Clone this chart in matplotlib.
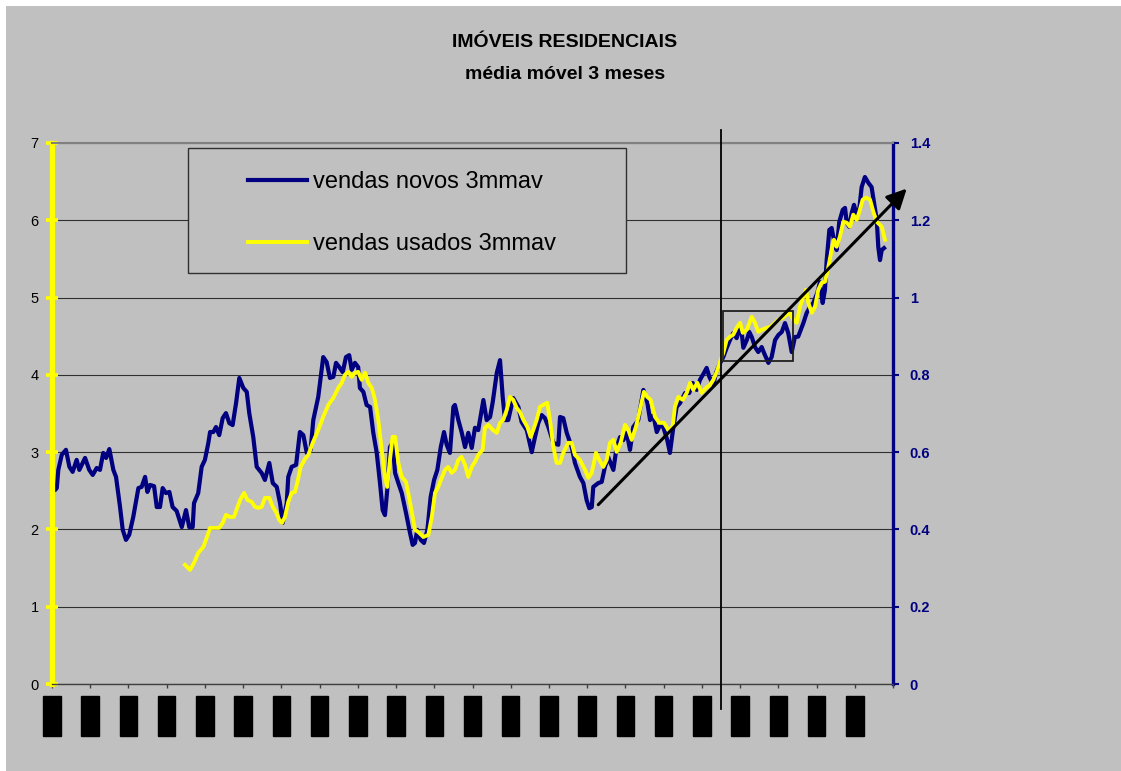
import numpy as np
import matplotlib
matplotlib.use("Agg")
import matplotlib.pyplot as plt
from matplotlib.patches import Rectangle

plt.rcParams['font.family'] = ['Liberation Sans', 'DejaVu Sans']

# vendas de imóveis novos, média móvel 3 meses (eixo direito)
anos_novos = [1963.00, 1963.16, 1963.25, 1963.33, 1963.51, 1963.73, 1963.91, 1964.08, 1964.29, 1964.43,
              1964.73, 1964.95, 1965.13, 1965.34, 1965.51, 1965.68, 1965.83, 1966.00, 1966.21, 1966.35,
              1966.56, 1966.70, 1966.87, 1967.04, 1967.25, 1967.52, 1967.69, 1967.87, 1967.99, 1968.13,
              1968.34, 1968.48, 1968.65, 1968.79, 1968.96, 1969.14, 1969.31, 1969.52, 1969.79, 1970.01,
              1970.18, 1970.36, 1970.43, 1970.65, 1970.83, 1971.00, 1971.18, 1971.27, 1971.44, 1971.58,
              1971.75, 1971.93, 1972.10, 1972.28, 1972.45, 1972.63, 1972.80, 1973.01, 1973.19, 1973.32,
              1973.53, 1973.71, 1973.97, 1974.14, 1974.37, 1974.55, 1974.76, 1974.93, 1975.07, 1975.28,
              1975.36, 1975.54, 1975.77, 1975.97, 1976.15, 1976.33, 1976.53, 1976.67, 1976.93, 1977.19,
              1977.37, 1977.54, 1977.72, 1977.86, 1978.03, 1978.21, 1978.38, 1978.55, 1978.68, 1978.85,
              1979.02, 1979.11, 1979.29, 1979.46, 1979.64, 1979.81, 1979.99, 1980.16, 1980.30, 1980.42,
              1980.54, 1980.68, 1980.82, 1980.95, 1981.12, 1981.30, 1981.52, 1981.73, 1981.87, 1981.99,
              1982.11, 1982.29, 1982.46, 1982.64, 1982.81, 1982.99, 1983.16, 1983.34, 1983.51, 1983.65,
              1983.82, 1984.00, 1984.08, 1984.26, 1984.43, 1984.61, 1984.78, 1984.96, 1985.13, 1985.30,
              1985.57, 1985.74, 1985.92, 1986.06, 1986.27, 1986.44, 1986.58, 1986.70, 1986.87, 1987.13,
              1987.40, 1987.57, 1987.84, 1988.10, 1988.27, 1988.44, 1988.62, 1988.79, 1988.97, 1989.23,
              1989.49, 1989.58, 1989.75, 1989.93, 1990.19, 1990.36, 1990.62, 1990.80, 1990.97, 1991.11,
              1991.24, 1991.32, 1991.58, 1991.76, 1991.93, 1992.10, 1992.37, 1992.54, 1992.72, 1992.89,
              1993.07, 1993.24, 1993.41, 1993.67, 1993.94, 1994.15, 1994.29, 1994.46, 1994.64, 1994.81,
              1994.98, 1995.19, 1995.33, 1995.51, 1995.68, 1995.86, 1996.12, 1996.34, 1996.52, 1996.73,
              1996.90, 1997.11, 1997.25, 1997.39, 1997.60, 1997.74, 1997.91, 1998.12, 1998.30, 1998.47,
              1998.64, 1998.82, 1999.00, 1999.08, 1999.17, 1999.35, 1999.48, 1999.61, 1999.78, 1999.95,
              2000.13, 2000.25, 2000.48, 2000.65, 2000.83, 2001.00, 2001.18, 2001.35, 2001.52, 2001.70,
              2001.87, 2002.04, 2002.31, 2002.48, 2002.66, 2002.83, 2003.04, 2003.18, 2003.32, 2003.44,
              2003.53, 2003.67, 2003.79, 2003.91, 2004.05, 2004.19, 2004.37, 2004.49, 2004.58, 2004.71,
              2004.84, 2004.96, 2005.10, 2005.24, 2005.36, 2005.53, 2005.71, 2005.88, 2006.01, 2006.15,
              2006.23, 2006.32, 2006.41, 2006.53]
vendas_novos = [0.499, 0.502, 0.507, 0.554, 0.593, 0.606, 0.562, 0.549, 0.580, 0.554,
                0.585, 0.554, 0.541, 0.559, 0.554, 0.598, 0.585, 0.608, 0.554, 0.536,
                0.458, 0.399, 0.373, 0.386, 0.432, 0.507, 0.510, 0.536, 0.497, 0.515,
                0.512, 0.458, 0.458, 0.507, 0.494, 0.497, 0.458, 0.448, 0.406, 0.450,
                0.406, 0.406, 0.468, 0.494, 0.562, 0.580, 0.624, 0.652, 0.652, 0.665,
                0.644, 0.688, 0.701, 0.675, 0.670, 0.727, 0.792, 0.766, 0.756, 0.701,
                0.639, 0.562, 0.546, 0.528, 0.572, 0.520, 0.510, 0.468, 0.417, 0.468,
                0.536, 0.562, 0.567, 0.652, 0.644, 0.598, 0.606, 0.683, 0.743, 0.846,
                0.833, 0.792, 0.795, 0.831, 0.820, 0.807, 0.846, 0.851, 0.813, 0.831,
                0.820, 0.766, 0.756, 0.722, 0.717, 0.650, 0.598, 0.520, 0.450, 0.437,
                0.502, 0.613, 0.624, 0.546, 0.520, 0.494, 0.443, 0.391, 0.360, 0.365,
                0.399, 0.373, 0.365, 0.399, 0.484, 0.528, 0.554, 0.613, 0.652, 0.619,
                0.598, 0.717, 0.722, 0.683, 0.652, 0.613, 0.650, 0.611, 0.663, 0.657,
                0.735, 0.683, 0.691, 0.730, 0.805, 0.838, 0.743, 0.683, 0.683, 0.740,
                0.717, 0.678, 0.657, 0.600, 0.639, 0.675, 0.696, 0.688, 0.665, 0.624,
                0.619, 0.691, 0.688, 0.650, 0.613, 0.572, 0.536, 0.520, 0.476, 0.455,
                0.458, 0.510, 0.520, 0.523, 0.562, 0.587, 0.554, 0.613, 0.639, 0.631,
                0.650, 0.606, 0.665, 0.683, 0.761, 0.727, 0.683, 0.696, 0.652, 0.670,
                0.665, 0.631, 0.598, 0.665, 0.717, 0.727, 0.753, 0.753, 0.779, 0.761,
                0.787, 0.805, 0.818, 0.795, 0.774, 0.805, 0.826, 0.846, 0.870, 0.890,
                0.908, 0.895, 0.924, 0.911, 0.870, 0.890, 0.911, 0.898, 0.872, 0.859,
                0.872, 0.857, 0.831, 0.846, 0.890, 0.903, 0.911, 0.934, 0.908, 0.859,
                0.898, 0.899, 0.934, 0.960, 0.976, 0.986, 1.012, 1.040, 0.986, 1.020,
                1.097, 1.175, 1.180, 1.149, 1.123, 1.196, 1.227, 1.232, 1.193, 1.183,
                1.219, 1.240, 1.214, 1.232, 1.286, 1.312, 1.297, 1.286, 1.245, 1.201,
                1.131, 1.097, 1.123, 1.128]

# vendas de imóveis usados, média móvel 3 meses (eixo esquerdo)
anos_usados = [1969.96, 1970.22, 1970.43, 1970.65, 1970.92, 1971.09, 1971.27, 1971.53, 1971.75, 1971.93,
               1972.10, 1972.31, 1972.52, 1972.69, 1972.84, 1973.05, 1973.22, 1973.45, 1973.62, 1973.79,
               1973.97, 1974.14, 1974.37, 1974.55, 1974.72, 1974.89, 1975.03, 1975.19, 1975.36, 1975.54,
               1975.71, 1975.83, 1976.01, 1976.24, 1976.41, 1976.64, 1976.93, 1977.19, 1977.46, 1977.72,
               1977.98, 1978.16, 1978.33, 1978.50, 1978.68, 1978.85, 1979.02, 1979.20, 1979.38, 1979.55,
               1979.73, 1979.90, 1980.07, 1980.25, 1980.42, 1980.54, 1980.68, 1980.82, 1980.95, 1981.12,
               1981.30, 1981.52, 1981.69, 1981.87, 1981.99, 1982.16, 1982.43, 1982.69, 1982.87, 1983.04,
               1983.21, 1983.39, 1983.56, 1983.73, 1983.91, 1984.08, 1984.26, 1984.43, 1984.61, 1984.78,
               1984.96, 1985.13, 1985.30, 1985.53, 1985.65, 1985.83, 1986.06, 1986.27, 1986.44, 1986.61,
               1986.79, 1986.96, 1987.13, 1987.31, 1987.48, 1987.66, 1987.87, 1988.04, 1988.18, 1988.36,
               1988.53, 1988.70, 1988.91, 1989.05, 1989.23, 1989.40, 1989.58, 1989.75, 1990.01, 1990.19,
               1990.36, 1990.62, 1990.89, 1991.06, 1991.24, 1991.46, 1991.63, 1991.84, 1992.02, 1992.19,
               1992.37, 1992.54, 1992.75, 1992.98, 1993.15, 1993.33, 1993.55, 1993.76, 1993.97, 1994.14,
               1994.32, 1994.55, 1994.77, 1995.02, 1995.24, 1995.47, 1995.59, 1995.77, 1996.00, 1996.21,
               1996.38, 1996.55, 1996.76, 1996.99, 1997.22, 1997.43, 1997.60, 1997.78, 1997.95, 1998.12,
               1998.30, 1998.47, 1998.64, 1998.82, 1999.00, 1999.14, 1999.35, 1999.61, 1999.78, 1999.95,
               2000.13, 2000.39, 2000.60, 2000.83, 2001.00, 2001.23, 2001.44, 2001.61, 2001.78, 2001.96,
               2002.13, 2002.31, 2002.45, 2002.57, 2002.75, 2002.92, 2003.09, 2003.27, 2003.44, 2003.61,
               2003.79, 2003.91, 2004.05, 2004.22, 2004.40, 2004.58, 2004.75, 2004.92, 2005.10, 2005.24,
               2005.41, 2005.59, 2005.80, 2005.97, 2006.15, 2006.41, 2006.58]
vendas_usados = [1.541, 1.476, 1.567, 1.696, 1.774, 1.890, 2.020, 2.020, 2.020, 2.084,
                 2.188, 2.162, 2.162, 2.279, 2.382, 2.473, 2.382, 2.356, 2.292, 2.279,
                 2.292, 2.408, 2.408, 2.292, 2.227, 2.123, 2.084, 2.162, 2.356, 2.473,
                 2.486, 2.602, 2.809, 2.913, 2.965, 3.120, 3.288, 3.457, 3.612, 3.703,
                 3.832, 3.897, 4.001, 4.039, 3.975, 4.026, 4.039, 3.936, 4.026, 3.897,
                 3.832, 3.677, 3.418, 3.030, 2.680, 2.550, 2.900, 3.198, 3.198, 2.861,
                 2.680, 2.615, 2.408, 2.162, 1.994, 1.968, 1.903, 1.929, 2.162, 2.473,
                 2.550, 2.667, 2.771, 2.809, 2.732, 2.771, 2.900, 2.939, 2.835, 2.680,
                 2.809, 2.874, 2.965, 3.030, 3.314, 3.353, 3.288, 3.250, 3.379, 3.418,
                 3.547, 3.716, 3.677, 3.573, 3.521, 3.418, 3.327, 3.198, 3.288, 3.418,
                 3.586, 3.612, 3.638, 3.418, 3.068, 2.861, 2.861, 2.991, 3.120, 3.120,
                 2.965, 2.900, 2.771, 2.667, 2.732, 2.991, 2.900, 2.809, 2.900, 3.120,
                 3.159, 3.004, 3.120, 3.353, 3.288, 3.159, 3.327, 3.547, 3.780, 3.716,
                 3.677, 3.457, 3.379, 3.379, 3.288, 3.327, 3.586, 3.716, 3.677, 3.768,
                 3.897, 3.806, 3.897, 3.768, 3.832, 3.871, 3.936, 4.039, 4.169, 4.285,
                 4.454, 4.493, 4.519, 4.609, 4.674, 4.544, 4.583, 4.751, 4.674, 4.557,
                 4.583, 4.609, 4.622, 4.674, 4.713, 4.739, 4.778, 4.803, 4.713, 4.674,
                 4.881, 5.010, 5.101, 4.933, 4.803, 4.881, 5.101, 5.192, 5.205, 5.386,
                 5.619, 5.748, 5.658, 5.787, 5.981, 5.968, 5.917, 6.072, 6.007, 6.111,
                 6.266, 6.292, 6.266, 6.111, 5.981, 5.917, 5.748]

anos_ticks = list(range(1963, 2008, 2))
rotulos_x = [f"jan-{a % 100:02d}" for a in anos_ticks[:-1]] + [""]

AZUL = "#000080"
AMARELO = "#FFFF00"
CINZA = "#C0C0C0"

fig = plt.figure(figsize=(11.21, 7.71), dpi=100)
fig.patch.set_facecolor("white")
fig.add_artist(Rectangle((6 / 1121, 0), 1, 1 - 6 / 771, transform=fig.transFigure,
                         facecolor=CINZA, edgecolor="none", zorder=-10))

ax = fig.add_axes([52 / 1121, 87 / 771, 841 / 1121, 541 / 771])
ax2 = ax.twinx()
ax.set_zorder(ax2.get_zorder() + 1)
ax.patch.set_visible(False)
ax2.patch.set_visible(False)

l_novos, = ax2.plot(anos_novos, vendas_novos, color=AZUL, lw=3.0, solid_joinstyle="round")
l_usados, = ax.plot(anos_usados, vendas_usados, color=AMARELO, lw=2.8, solid_joinstyle="round")

ax.set_xlim(1963, 2007)
ax.set_ylim(0, 7)
ax2.set_ylim(0, 1.4)

# eixo esquerdo (amarelo)
ax.set_yticks(range(0, 8))
ax.tick_params(axis="y", direction="inout", length=9, width=2.6, color=AMARELO,
               labelsize=10.5, labelcolor="black", pad=5)
for t in ax.yaxis.get_major_ticks():
    t.tick1line.set_solid_capstyle("round")

# eixo direito (azul)
ax2.set_yticks(np.arange(0, 1.41, 0.2))
ax2.set_yticklabels(["0", "0.2", "0.4", "0.6", "0.8", "1", "1.2", "1.4"])
ax2.tick_params(axis="y", direction="out", length=4, width=1.5, color=AZUL,
                labelsize=10.5, labelcolor=AZUL, pad=8)
for lbl in ax2.get_yticklabels():
    lbl.set_fontweight("bold")

# grade horizontal
ax2.grid(axis="y", color="#303030", lw=0.8)
ax2.set_axisbelow(True)

for s in ["left", "right", "top", "bottom"]:
    ax2.spines[s].set_visible(False)
ax.spines["right"].set_visible(False)
ax.spines["left"].set_color(AMARELO)
ax.spines["left"].set_linewidth(3.8)
ax.spines["top"].set_color("#808080")
ax.spines["top"].set_linewidth(1.5)
ax.spines["bottom"].set_color("#404040")
ax.spines["bottom"].set_linewidth(1.0)
ax2.spines["right"].set_visible(True)
ax2.spines["right"].set_color(AZUL)
ax2.spines["right"].set_linewidth(2.4)

# eixo das datas: rótulos tapados a preto
ax.set_xticks(anos_ticks)
ax.set_xticklabels(rotulos_x, rotation=90, fontsize=9, color="black")
ax.tick_params(axis="x", direction="out", length=3, width=1, color="#404040", pad=7.5)
for lbl in ax.get_xticklabels():
    lbl.set_bbox(dict(facecolor="black", edgecolor="black", pad=2))

# marcações
ax.plot([1998.0, 1998.0], [-0.32, 7.17], color="black", lw=1.3, clip_on=False, zorder=4)
ax.add_patch(Rectangle((1998.13, 4.18), 3.66, 0.65, fill=False, edgecolor="#202020", lw=1.3, zorder=4))
ax.annotate("", xy=(2007.72, 6.41), xytext=(1991.58, 2.32), annotation_clip=False,
            arrowprops=dict(arrowstyle="-|>,head_length=0.6,head_width=0.3", color="black",
                            lw=2.2, mutation_scale=20, shrinkA=0, shrinkB=0, clip_on=False),
            zorder=5)

# legenda
ax.add_patch(Rectangle((0.1617, 0.7597), 0.5208, 0.2311, transform=ax.transAxes,
                       facecolor=CINZA, edgecolor="#303030", lw=1, zorder=3))
leg = ax.legend([l_novos, l_usados], ["vendas novos 3mmav", "vendas usados 3mmav"],
                loc="upper left", bbox_to_anchor=(0.2331, 0.9482), frameon=False,
                fontsize=17, handlelength=2.5, handletextpad=0.25, labelspacing=1.7,
                borderpad=0, borderaxespad=0)
leg.set_zorder(6)

fig.text(0.504, 0.9455, "IMÓVEIS RESIDENCIAIS", ha="center", va="center",
         fontsize=14, fontweight="bold")
fig.text(0.504, 0.904, "média móvel 3 meses", ha="center", va="center",
         fontsize=14, fontweight="bold")

fig.savefig("out.png", dpi=100, facecolor=fig.get_facecolor())
